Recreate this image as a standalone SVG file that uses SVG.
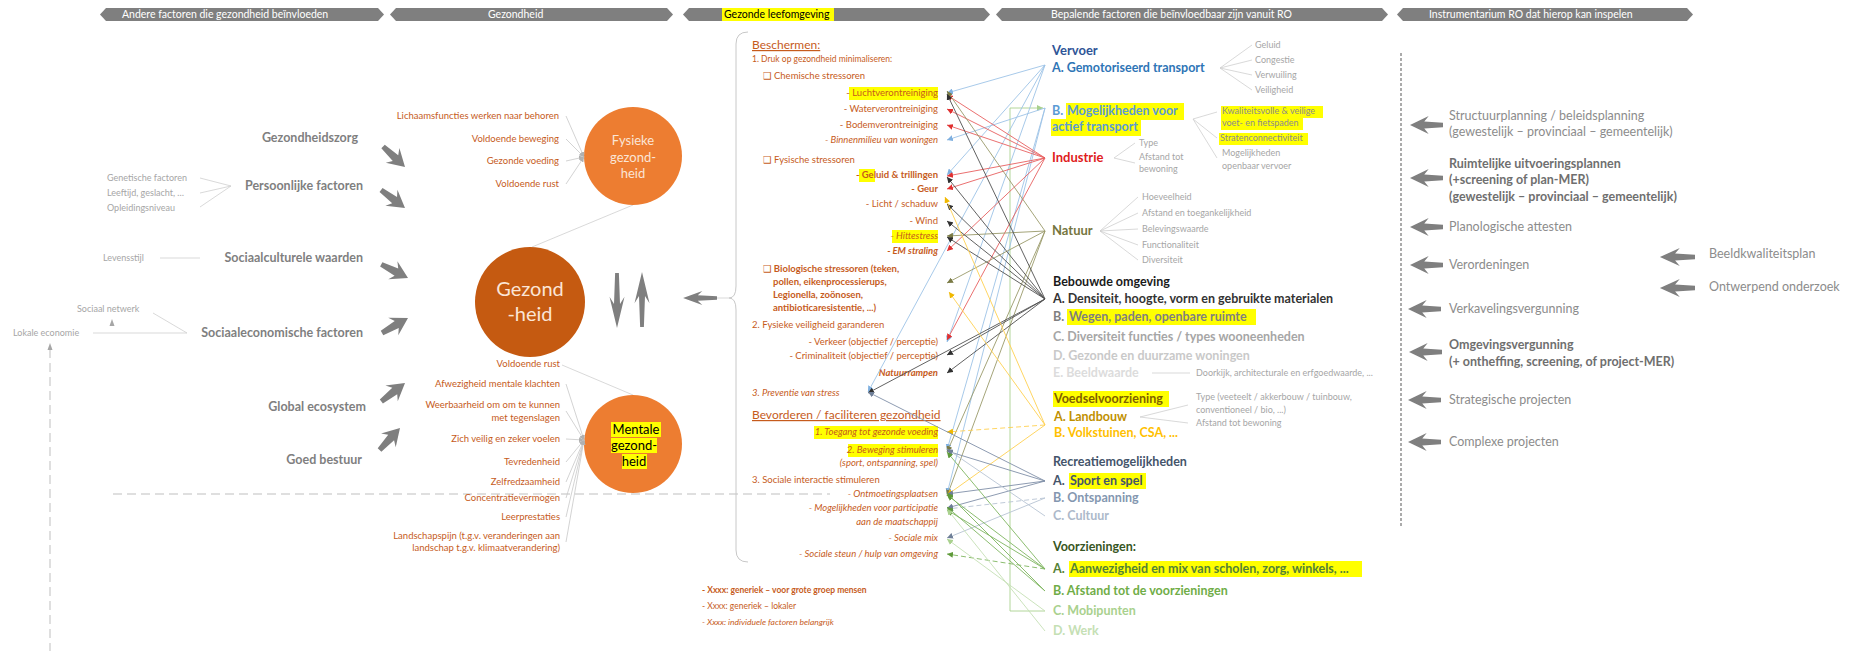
<svg xmlns="http://www.w3.org/2000/svg" xmlns:xlink="http://www.w3.org/1999/xlink" width="1852" height="651" viewBox="0 0 1852 651">
<style>
text{font-family:Lato,"Liberation Sans",sans-serif}
.ban{fill:#7f7f7f}
.bt{font-size:10.5px;fill:#fff}
.lb{font-size:12.5px;font-weight:bold;fill:#7f7f7f}
.gs{font-size:9px;fill:#a6a6a6}
.o{font-size:9.5px;fill:#c65b1c}
.ob{font-size:9.5px;fill:#c65b1c;font-weight:bold}
.oi{font-size:9.5px;fill:#c65b1c;font-style:italic}
.obi{font-size:9.5px;fill:#c65b1c;font-style:italic;font-weight:bold}
.oh{font-size:12px;fill:#c65b1c;text-decoration:underline}
.rb{font-size:12.5px;font-weight:bold}
.in{font-size:12.5px;fill:#8c8c8c}
.inb{font-size:12.5px;fill:#6f6f6f;font-weight:bold}
.hl{fill:#ffff00}
.thin{stroke:#cfcfcf;stroke-width:0.8;fill:none}
.dash{stroke:#bfbfbf;stroke-width:1;stroke-dasharray:9 5;fill:none}
.c line,.c path{stroke-width:0.9;fill:none}
</style>
<defs>
<path id="ba" d="M0,-2.5 L17,-4 L13,-10 L30,0 L13,10 L17,4 L0,2.5 Z" fill="#7f7f7f"/>
<marker id="mG" viewBox="0 0 6 6" refX="6" refY="3" markerWidth="5" markerHeight="5" orient="auto" markerUnits="userSpaceOnUse"><path d="M0,0 L6,3 L0,6 Z" fill="#b0b0b0"/></marker>
<marker id="mB" viewBox="0 0 6 6" refX="6" refY="3" markerWidth="6" markerHeight="6" orient="auto" markerUnits="userSpaceOnUse"><path d="M0,0 L6,3 L0,6 Z" fill="#7fb0e0"/></marker>
<marker id="mR" viewBox="0 0 6 6" refX="6" refY="3" markerWidth="6" markerHeight="6" orient="auto" markerUnits="userSpaceOnUse"><path d="M0,0 L6,3 L0,6 Z" fill="#e03030"/></marker>
<marker id="mK" viewBox="0 0 6 6" refX="6" refY="3" markerWidth="6" markerHeight="6" orient="auto" markerUnits="userSpaceOnUse"><path d="M0,0 L6,3 L0,6 Z" fill="#303030"/></marker>
<marker id="mO" viewBox="0 0 6 6" refX="6" refY="3" markerWidth="6" markerHeight="6" orient="auto" markerUnits="userSpaceOnUse"><path d="M0,0 L6,3 L0,6 Z" fill="#7a7a45"/></marker>
<marker id="mY" viewBox="0 0 6 6" refX="6" refY="3" markerWidth="6" markerHeight="6" orient="auto" markerUnits="userSpaceOnUse"><path d="M0,0 L6,3 L0,6 Z" fill="#f0b800"/></marker>
<marker id="mS" viewBox="0 0 6 6" refX="6" refY="3" markerWidth="6" markerHeight="6" orient="auto" markerUnits="userSpaceOnUse"><path d="M0,0 L6,3 L0,6 Z" fill="#6f7f98"/></marker>
<marker id="mN" viewBox="0 0 6 6" refX="6" refY="3" markerWidth="6" markerHeight="6" orient="auto" markerUnits="userSpaceOnUse"><path d="M0,0 L6,3 L0,6 Z" fill="#5f9a3a"/></marker>
<marker id="mL" viewBox="0 0 6 6" refX="6" refY="3" markerWidth="6" markerHeight="6" orient="auto" markerUnits="userSpaceOnUse"><path d="M0,0 L6,3 L0,6 Z" fill="#a9d18e"/></marker>
</defs>
<rect width="1852" height="651" fill="#fff"/>

<g id="banner">
<polygon class="ban" points="100,14.5 106,8 378,8 384,14.5 378,21 106,21"/>
<polygon class="ban" points="390,14.5 396,8 667,8 673,14.5 667,21 396,21"/>
<polygon class="ban" points="683,14.5 689,8 984,8 990,14.5 984,21 689,21"/>
<polygon class="ban" points="996,14.5 1002,8 1382,8 1388,14.5 1382,21 1002,21"/>
<polygon class="ban" points="1397,14.5 1403,8 1687,8 1693,14.5 1687,21 1403,21"/>
<text class="bt" x="122" y="18">Andere factoren die gezondheid  beïnvloeden</text>
<text class="bt" x="488" y="18">Gezondheid</text>
<rect class="hl" x="722" y="8" width="112" height="13"/>
<text class="bt" x="724" y="18" style="fill:#000">Gezonde leefomgeving</text>
<text class="bt" x="1051" y="18">Bepalende factoren die  beïnvloedbaar zijn vanuit RO</text>
<text class="bt" x="1429" y="18">Instrumentarium RO dat  hierop kan inspelen</text>
</g>

<g id="left-factors">
<text class="lb" x="358" y="142" text-anchor="end">Gezondheidszorg</text>
<text class="lb" x="363" y="190" text-anchor="end">Persoonlijke factoren</text>
<text class="lb" x="363" y="262" text-anchor="end">Sociaalculturele waarden</text>
<text class="lb" x="363" y="337" text-anchor="end">Sociaaleconomische factoren</text>
<text class="lb" x="366" y="411" text-anchor="end">Global ecosystem</text>
<text class="lb" x="362" y="464" text-anchor="end">Goed bestuur</text>
<text class="gs" x="107" y="181">Genetische factoren</text>
<text class="gs" x="107" y="196">Leeftijd, geslacht, …</text>
<text class="gs" x="107" y="211">Opleidingsniveau</text>
<text class="gs" x="103" y="261">Levensstijl</text>
<text class="gs" x="77" y="312">Sociaal netwerk</text>
<text class="gs" x="13" y="336">Lokale economie</text>
<path class="thin" d="M200,178 L231,186 M200,193 L231,186 M200,207 L231,186 M160,258 L200,258 M93,333 L187,333 M153,313 L187,333"/>
<path d="M109.5,326 L112,319 L114.5,326 Z" fill="#a6a6a6"/>
<line class="dash" x1="50" y1="349" x2="50" y2="651"/>
<path d="M47.5,350 L50,343 L52.5,350 Z" fill="#a6a6a6"/>
<line class="dash" x1="113" y1="494" x2="830" y2="494"/>
<use href="#ba" transform="translate(405,167) rotate(43) translate(-30,0)"/>
<use href="#ba" transform="translate(405,208) rotate(37) translate(-30,0)"/>
<use href="#ba" transform="translate(408,278) rotate(27) translate(-30,0)"/>
<use href="#ba" transform="translate(408,318) rotate(-30) translate(-30,0)"/>
<use href="#ba" transform="translate(405,383) rotate(-38) translate(-30,0)"/>
<use href="#ba" transform="translate(400,428) rotate(-47) translate(-30,0)"/>
</g>

<g id="health">
<line class="thin" x1="532" y1="247" x2="633" y2="205"/>
<line class="thin" x1="562" y1="365" x2="633" y2="395"/>
<circle cx="633" cy="156" r="49" fill="#ed7d31"/>
<text x="633" y="145" text-anchor="middle" style="font-size:13px;fill:#fbe5d6">Fysieke</text>
<text x="633" y="162" text-anchor="middle" style="font-size:13px;fill:#fbe5d6">gezond-</text>
<text x="633" y="178" text-anchor="middle" style="font-size:13px;fill:#fbe5d6">heid</text>
<circle cx="530" cy="302" r="55" fill="#c55a11"/>
<text x="530" y="296" text-anchor="middle" style="font-size:20px;fill:#fbe5d6">Gezond</text>
<text x="530" y="321" text-anchor="middle" style="font-size:20px;fill:#fbe5d6">-heid</text>
<circle cx="633" cy="444" r="49" fill="#ed7d31"/>
<rect class="hl" x="611" y="422" width="50" height="15"/>
<rect class="hl" x="611" y="438" width="46" height="15"/>
<rect class="hl" x="622" y="454" width="25" height="15"/>
<text x="636" y="434" text-anchor="middle" style="font-size:13px;fill:#000">Mentale</text>
<text x="634" y="450" text-anchor="middle" style="font-size:13px;fill:#000">gezond-</text>
<text x="634" y="466" text-anchor="middle" style="font-size:13px;fill:#000">heid</text>
<g class="o" text-anchor="end">
<text x="559" y="119">Lichaamsfuncties werken naar behoren</text>
<text x="559" y="142">Voldoende beweging</text>
<text x="559" y="164">Gezonde voeding</text>
<text x="559" y="187">Voldoende rust</text>
<text x="560" y="367">Voldoende rust</text>
<text x="560" y="387">Afwezigheid mentale klachten</text>
<text x="560" y="408">Weerbaarheid om om te kunnen</text>
<text x="560" y="421">met tegenslagen</text>
<text x="560" y="442">Zich veilig en zeker voelen</text>
<text x="560" y="465">Tevredenheid</text>
<text x="560" y="485">Zelfredzaamheid</text>
<text x="560" y="501">Concentratievermogen</text>
<text x="560" y="520">Leerprestaties</text>
<text x="560" y="539">Landschapspijn (t.g.v. veranderingen aan</text>
<text x="560" y="551">landschap t.g.v. klimaatverandering)</text>
</g>
<g stroke="#c8c8c8" stroke-width="0.8" fill="none" marker-end="url(#mG)">
<line x1="566" y1="116" x2="584" y2="157"/>
<line x1="566" y1="139" x2="584" y2="157"/>
<line x1="566" y1="161" x2="584" y2="157"/>
<line x1="566" y1="184" x2="584" y2="157"/>
<line x1="566" y1="384" x2="584" y2="440"/>
<line x1="566" y1="411" x2="584" y2="440"/>
<line x1="566" y1="439" x2="584" y2="440"/>
<line x1="566" y1="462" x2="584" y2="440"/>
<line x1="566" y1="482" x2="584" y2="440"/>
<line x1="566" y1="498" x2="584" y2="440"/>
<line x1="566" y1="517" x2="584" y2="440"/>
<line x1="566" y1="542" x2="584" y2="440"/>
</g>
<use href="#ba" transform="translate(617,328) rotate(90) translate(-55,0) scale(1.83,0.75)"/>
<use href="#ba" transform="translate(642,272) rotate(-90) translate(-55,0) scale(1.83,0.75)"/>
<use href="#ba" transform="translate(683,298) rotate(180) translate(-34,0) scale(1.13,0.7)"/>
<line class="thin" x1="717" y1="298" x2="729" y2="298"/>
</g>

<g id="leefomgeving">
<path d="M748,32 Q736,32 736,44 L736,286 Q736,298 729,298 Q736,298 736,310 L736,550 Q736,562 748,562" stroke="#c8c8c8" stroke-width="1" fill="none"/>
<text class="oh" x="752" y="49">Beschermen:</text>
<text class="o" x="752" y="62" style="font-size:8.5px">1. Druk op gezondheid minimaliseren:</text>
<text class="o" x="763" y="79"><tspan style="font-family:'DejaVu Sans'">❑</tspan> Chemische stressoren</text>
<rect class="hl" x="849" y="87" width="89" height="13"/>
<text class="o" x="938" y="96" text-anchor="end">- Luchtverontreiniging</text>
<text class="o" x="938" y="112" text-anchor="end">- Waterverontreiniging</text>
<text class="o" x="938" y="128" text-anchor="end">- Bodemverontreiniging</text>
<text class="oi" x="938" y="143" text-anchor="end">- Binnenmilieu van woningen</text>
<text class="o" x="763" y="163"><tspan style="font-family:'DejaVu Sans'">❑</tspan> Fysische stressoren</text>
<rect class="hl" x="859" y="169" width="16" height="13"/>
<text class="ob" x="938" y="178" text-anchor="end">- Geluid &amp; trillingen</text>
<text class="ob" x="938" y="192" text-anchor="end">- Geur</text>
<text class="o" x="938" y="207" text-anchor="end">- Licht / schaduw</text>
<text class="o" x="938" y="224" text-anchor="end">- Wind</text>
<rect class="hl" x="892" y="230" width="46" height="13"/>
<text class="oi" x="938" y="239" text-anchor="end">- Hittestress</text>
<text class="obi" x="938" y="254" text-anchor="end">- EM straling</text>
<text class="ob" x="763" y="272"><tspan style="font-family:'DejaVu Sans';font-weight:normal">❑</tspan> Biologische stressoren (teken,</text>
<text class="ob" x="773" y="285">pollen, eikenprocessierups,</text>
<text class="ob" x="773" y="298">Legionella, zoönosen,</text>
<text class="ob" x="773" y="311">antibioticaresistentie, ...)</text>
<text class="o" x="752" y="328">2. Fysieke veiligheid garanderen</text>
<text class="o" x="938" y="345" text-anchor="end">- Verkeer (objectief / perceptie)</text>
<text class="o" x="938" y="359" text-anchor="end">- Criminaliteit (objectief / perceptie)</text>
<text class="obi" x="938" y="376" text-anchor="end">Natuurrampen</text>
<text class="oi" x="752" y="396">3. Preventie van stress</text>
<text class="oh" x="752" y="419">Bevorderen / faciliteren gezondheid</text>
<rect class="hl" x="814" y="426" width="124" height="13"/>
<text class="oi" x="938" y="435" text-anchor="end">1. Toegang tot gezonde voeding</text>
<rect class="hl" x="848" y="444" width="90" height="13"/>
<text class="oi" x="938" y="453" text-anchor="end">2. Beweging stimuleren</text>
<text class="oi" x="938" y="466" text-anchor="end">(sport, ontspanning, spel)</text>
<text class="o" x="752" y="483">3. Sociale interactie stimuleren</text>
<text class="oi" x="938" y="497" text-anchor="end">- Ontmoetingsplaatsen</text>
<text class="oi" x="938" y="511" text-anchor="end">- Mogelijkheden voor participatie</text>
<text class="oi" x="938" y="525" text-anchor="end">aan de maatschappij</text>
<text class="oi" x="938" y="541" text-anchor="end">- Sociale mix</text>
<text class="oi" x="938" y="557" text-anchor="end">- Sociale steun / hulp van omgeving</text>
</g>

<g id="legend">
<text class="ob" x="702" y="593" style="font-size:8.5px">- Xxxx: generiek – voor grote groep mensen</text>
<text class="o" x="702" y="609" style="font-size:8.5px">- Xxxx: generiek – lokaler</text>
<text class="oi" x="702" y="625" style="font-size:8.5px">- Xxxx: individuele factoren belangrijk</text>
</g>

<g id="connectors" class="c">
<path d="M1045,611 L1010,611 L1010,108 L1043,108" stroke="#a9d18e" marker-end="url(#mL)"/>
<g stroke="#9dc3e6" marker-end="url(#mB)">
<line x1="1045" y1="65" x2="947" y2="93"/>
<line x1="1045" y1="65" x2="947" y2="175"/>
<line x1="1045" y1="65" x2="947" y2="342"/>
<line x1="1045" y1="65" x2="868" y2="392"/>
<line x1="1045" y1="108" x2="947" y2="140"/>
<line x1="1045" y1="108" x2="947" y2="450"/>
<line x1="1045" y1="108" x2="947" y2="494"/>
</g>
<g stroke="#e86060" marker-end="url(#mR)">
<line x1="1045" y1="158" x2="947" y2="95"/>
<line x1="1045" y1="158" x2="947" y2="109"/>
<line x1="1045" y1="158" x2="947" y2="125"/>
<line x1="1045" y1="158" x2="947" y2="176"/>
<line x1="1045" y1="158" x2="947" y2="189"/>
<line x1="1045" y1="158" x2="947" y2="251"/>
<line x1="1045" y1="158" x2="947" y2="340"/>
</g>
<g stroke="#9a9a6a" marker-end="url(#mO)">
<line x1="1045" y1="231" x2="947" y2="236"/>
<line x1="1045" y1="231" x2="947" y2="283"/>
<line x1="1045" y1="231" x2="947" y2="452"/>
<line x1="1045" y1="231" x2="947" y2="496"/>
<line x1="1045" y1="231" x2="947" y2="91"/>
</g>
<g stroke="#505050" marker-end="url(#mK)">
<line x1="1045" y1="299" x2="947" y2="94"/>
<line x1="1045" y1="299" x2="947" y2="177"/>
<line x1="1045" y1="299" x2="947" y2="204"/>
<line x1="1045" y1="299" x2="947" y2="221"/>
<line x1="1045" y1="299" x2="947" y2="237"/>
<line x1="1045" y1="299" x2="947" y2="355"/>
<line x1="1045" y1="299" x2="947" y2="373"/>
<line x1="1045" y1="299" x2="868" y2="393"/>
</g>
<g stroke="#ffd050" marker-end="url(#mY)">
<line x1="1045" y1="425" x2="945" y2="197"/>
<line x1="1045" y1="425" x2="949" y2="292"/>
<line x1="1045" y1="425" x2="947" y2="432" stroke-dasharray="5 3"/>
<line x1="1045" y1="425" x2="947" y2="495"/>
</g>
<g stroke="#8090a8" marker-end="url(#mS)">
<line x1="1045" y1="481" x2="947" y2="451"/>
<line x1="1045" y1="481" x2="947" y2="494"/>
<line x1="1045" y1="481" x2="947" y2="508"/>
<line x1="1045" y1="481" x2="868" y2="392"/>
</g>
<g stroke="#b8c4d4" marker-end="url(#mS)">
<line x1="1045" y1="498" x2="947" y2="509" stroke-dasharray="5 3"/>
<line x1="1045" y1="498" x2="947" y2="538"/>
<line x1="1045" y1="516" x2="947" y2="449"/>
</g>
<g stroke="#7fb560" marker-end="url(#mN)">
<line x1="1045" y1="569" x2="947" y2="495"/>
<line x1="1045" y1="569" x2="947" y2="510"/>
<line x1="1045" y1="569" x2="947" y2="554" stroke-dasharray="5 3"/>
<line x1="1045" y1="569" x2="947" y2="452"/>
<line x1="1045" y1="591" x2="947" y2="507"/>
<line x1="1045" y1="591" x2="947" y2="493"/>
</g>
<g stroke="#c5e0b4" marker-end="url(#mL)">
<line x1="1045" y1="611" x2="947" y2="539"/>
<line x1="1045" y1="631" x2="947" y2="509"/>
</g>
</g>

<g id="vervoer">
<text class="rb" x="1052" y="55" style="font-size:13px;fill:#2f5597">Vervoer</text>
<text class="rb" x="1052" y="72" style="fill:#2e75b6">A. Gemotoriseerd transport</text>
<text class="gs" x="1255" y="48">Geluid</text>
<text class="gs" x="1255" y="63">Congestie</text>
<text class="gs" x="1255" y="78">Verwuiling</text>
<text class="gs" x="1255" y="93">Veiligheid</text>
<path class="thin" d="M1220,68 L1252,45 M1220,68 L1252,60 M1220,68 L1252,75 M1220,68 L1252,90"/>
<rect class="hl" x="1066" y="103" width="118" height="17"/>
<rect class="hl" x="1051" y="119" width="90" height="17"/>
<text class="rb" x="1052" y="115" style="fill:#5b9bd5">B. <tspan x="1067">Mogelijkheden voor</tspan></text>
<text class="rb" x="1052" y="131" style="fill:#5b9bd5">actief transport</text>
<rect class="hl" x="1221" y="106" width="102" height="12"/>
<rect class="hl" x="1221" y="118" width="82" height="12"/>
<rect class="hl" x="1219" y="133" width="89" height="12"/>
<text class="gs" x="1222" y="114" style="fill:#8c8c8c">Kwaliteitsvolle &amp; veilige</text>
<text class="gs" x="1222" y="126" style="fill:#8c8c8c">voet- en fietspaden</text>
<text class="gs" x="1220" y="141" style="fill:#8c8c8c">Stratenconnectiviteit</text>
<text class="gs" x="1222" y="156">Mogelijkheden</text>
<text class="gs" x="1222" y="169">openbaar vervoer</text>
<path class="thin" d="M1193,119 L1217,112 M1193,119 L1217,138 M1193,119 L1217,158"/>
</g>

<g id="industrie">
<text class="rb" x="1052" y="162" style="font-size:13px;fill:#e0201c">Industrie</text>
<text class="gs" x="1139" y="146">Type</text>
<text class="gs" x="1139" y="160">Afstand tot</text>
<text class="gs" x="1139" y="172">bewoning</text>
<path class="thin" d="M1114,158 L1135,143 M1114,158 L1135,163"/>
</g>

<g id="natuur">
<text class="rb" x="1052" y="235" style="font-size:13px;fill:#767640">Natuur</text>
<text class="gs" x="1142" y="200">Hoeveelheid</text>
<text class="gs" x="1142" y="216">Afstand en toegankelijkheid</text>
<text class="gs" x="1142" y="232">Belevingswaarde</text>
<text class="gs" x="1142" y="248">Functionaliteit</text>
<text class="gs" x="1142" y="263">Diversiteit</text>
<path class="thin" d="M1100,231 L1138,197 M1100,231 L1138,213 M1100,231 L1138,229 M1100,231 L1138,245 M1100,231 L1138,260"/>
</g>

<g id="bebouwde-omgeving">
<text class="rb" x="1053" y="286" style="fill:#1a1a1a">Bebouwde omgeving</text>
<text class="rb" x="1053" y="303" style="fill:#333">A. Densiteit, hoogte, vorm en gebruikte materialen</text>
<rect class="hl" x="1067" y="309" width="189" height="16"/>
<text class="rb" x="1053" y="321" style="fill:#7f7f7f">B. <tspan x="1069">Wegen, paden, openbare ruimte</tspan></text>
<text class="rb" x="1053" y="341" style="fill:#a6a6a6">C. Diversiteit functies / types wooneenheden</text>
<text class="rb" x="1053" y="360" style="fill:#c9c9c9">D. Gezonde en duurzame woningen</text>
<text class="rb" x="1053" y="377" style="fill:#dcdcdc">E. Beeldwaarde</text>
<line class="thin" x1="1152" y1="373" x2="1190" y2="373"/>
<text class="gs" x="1196" y="376">Doorkijk, architecturale en erfgoedwaarde, ...</text>
</g>

<g id="voedselvoorziening">
<rect class="hl" x="1053" y="391" width="116" height="16"/>
<text class="rb" x="1054" y="403" style="fill:#7f6000">Voedselvoorziening</text>
<text class="rb" x="1054" y="421" style="fill:#bf9000">A. Landbouw</text>
<text class="rb" x="1054" y="437" style="fill:#ffc000">B. Volkstuinen, CSA, ...</text>
<text class="gs" x="1196" y="400">Type (veeteelt / akkerbouw / tuinbouw,</text>
<text class="gs" x="1196" y="413">conventioneel / bio, ...)</text>
<text class="gs" x="1196" y="426">Afstand tot bewoning</text>
<path class="thin" d="M1140,417 L1188,405 M1140,417 L1188,423"/>
</g>

<g id="recreatie">
<text class="rb" x="1053" y="466" style="fill:#44546a">Recreatiemogelijkheden</text>
<rect class="hl" x="1069" y="473" width="77" height="16"/>
<text class="rb" x="1053" y="485" style="fill:#44546a">A. <tspan x="1070">Sport en spel</tspan></text>
<text class="rb" x="1053" y="502" style="fill:#8497b0">B. Ontspanning</text>
<text class="rb" x="1053" y="520" style="fill:#adb9ca">C. Cultuur</text>
</g>

<g id="voorzieningen">
<text class="rb" x="1053" y="551" style="fill:#375623">Voorzieningen:</text>
<rect class="hl" x="1069" y="561" width="293" height="16"/>
<text class="rb" x="1053" y="573" style="fill:#548235">A. <tspan x="1070">Aanwezigheid en mix van scholen, zorg, winkels, ...</tspan></text>
<text class="rb" x="1053" y="595" style="fill:#70ad47">B. Afstand tot de voorzieningen</text>
<text class="rb" x="1053" y="615" style="fill:#a9d18e">C. Mobipunten</text>
<text class="rb" x="1053" y="635" style="fill:#c5e0b4">D. Werk</text>
</g>

<g id="instrumentarium">
<line x1="1401" y1="53" x2="1401" y2="528" stroke="#7f7f7f" stroke-width="1.3" stroke-dasharray="3 2"/>
<use href="#ba" transform="translate(1410,125) rotate(180) translate(-33,0) scale(1.1,0.9)"/>
<use href="#ba" transform="translate(1410,178) rotate(180) translate(-33,0) scale(1.1,0.9)"/>
<use href="#ba" transform="translate(1410,227) rotate(180) translate(-33,0) scale(1.1,0.9)"/>
<use href="#ba" transform="translate(1410,265) rotate(180) translate(-33,0) scale(1.1,0.9)"/>
<use href="#ba" transform="translate(1408,309) rotate(180) translate(-33,0) scale(1.1,0.9)"/>
<use href="#ba" transform="translate(1409,352) rotate(180) translate(-33,0) scale(1.1,0.9)"/>
<use href="#ba" transform="translate(1408,400) rotate(180) translate(-33,0) scale(1.1,0.9)"/>
<use href="#ba" transform="translate(1408,442) rotate(180) translate(-33,0) scale(1.1,0.9)"/>
<use href="#ba" transform="translate(1660,257) rotate(180) translate(-35,0) scale(1.17,0.9)"/>
<use href="#ba" transform="translate(1660,288) rotate(180) translate(-35,0) scale(1.17,0.9)"/>
<text class="in" x="1449" y="120">Structuurplanning / beleidsplanning</text>
<text class="in" x="1449" y="136">(gewestelijk – provinciaal – gemeentelijk)</text>
<text class="inb" x="1449" y="168">Ruimtelijke uitvoeringsplannen</text>
<text class="inb" x="1449" y="184">(+screening of plan-MER)</text>
<text class="inb" x="1449" y="201">(gewestelijk – provinciaal – gemeentelijk)</text>
<text class="in" x="1449" y="231">Planologische attesten</text>
<text class="in" x="1449" y="269">Verordeningen</text>
<text class="in" x="1449" y="313">Verkavelingsvergunning</text>
<text class="inb" x="1449" y="349">Omgevingsvergunning</text>
<text class="inb" x="1449" y="366">(+ ontheffing, screening, of project-MER)</text>
<text class="in" x="1449" y="404">Strategische projecten</text>
<text class="in" x="1449" y="446">Complexe projecten</text>
<text class="in" x="1709" y="258">Beeldkwaliteitsplan</text>
<text class="in" x="1709" y="291">Ontwerpend onderzoek</text>
</g>
</svg>
